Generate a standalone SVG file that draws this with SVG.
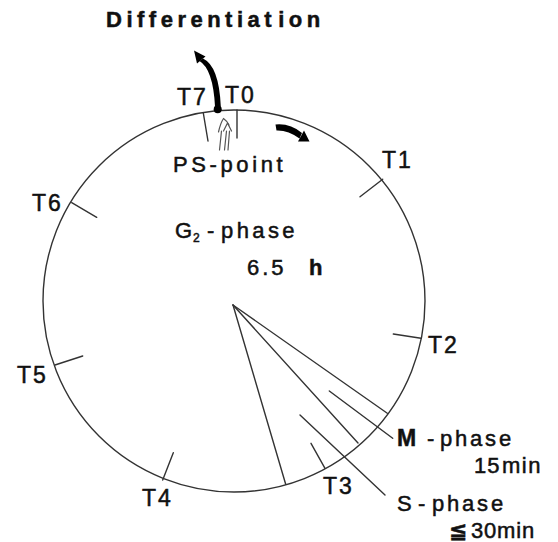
<svg xmlns="http://www.w3.org/2000/svg" width="558" height="542" viewBox="0 0 558 542">
<style>
  .ln { fill: none; stroke: #333; stroke-width: 1.4; stroke-linecap: round; }
  .thin { fill: none; stroke: #555; stroke-width: 1.2; stroke-linecap: round; stroke-linejoin: round; }
  .t { font-family: "Liberation Sans", Arial, "DejaVu Sans", sans-serif; font-size: 22px; fill: #111; stroke: #111; stroke-width: 0.5; }
  .tl { font-size: 23px; letter-spacing: 2px; }
  .b { font-weight: bold; }
  .blk { fill: #000; }
</style>
<rect width="558" height="542" fill="#fff"/>

<g id="cycle">
  <circle cx="234" cy="301" r="191" class="ln"/>
</g>

<g id="ticks">
  <line class="ln" x1="237" y1="110" x2="237" y2="138"/>
  <line class="ln" x1="382.7" y1="179.3" x2="360" y2="196.7"/>
  <line class="ln" x1="421" y1="338.3" x2="393.3" y2="334"/>
  <line class="ln" x1="325" y1="468.3" x2="311" y2="443.3"/>
  <line class="ln" x1="162.7" y1="480" x2="173.3" y2="452.7"/>
  <line class="ln" x1="55" y1="365" x2="82.7" y2="356"/>
  <line class="ln" x1="71.7" y1="202.7" x2="96.7" y2="217.3"/>
  <line class="ln" x1="203.3" y1="113" x2="208" y2="141"/>
</g>

<g id="connectors">
  <line class="ln" x1="233" y1="305" x2="387.3" y2="413.3"/>
  <line class="ln" x1="233" y1="305" x2="358" y2="443"/>
  <line class="ln" x1="233" y1="305" x2="285.7" y2="484.3"/>
  <line class="ln" x1="329.3" y1="391" x2="392.7" y2="438.3"/>
  <line class="ln" x1="300" y1="415" x2="385" y2="495"/>
</g>

<g id="ps-point">
  <circle cx="217.7" cy="109.3" r="4" class="blk"/>
  <path class="thin" d="M219.5,150 L221.5,131 M218.5,132 Q220.5,123 223.5,118.5 Q227,121 229,125"/>
  <path class="thin" d="M224.5,150 L226.5,131 M223.5,131 L227.5,123 L231.5,131 M228,150 L229.5,131"/>
  <text class="t" x="173" y="172" letter-spacing="3.6">PS-point</text>
</g>

<g id="differentiation">
  <path class="blk" d="M199.5,61 Q213,69 215,106.5 L220.8,106.5 Q219,66 203,58.5 Z"/>
  <polygon class="blk" points="194,50.5 205.5,56.5 197,63.5"/>
  <text class="t b" x="106" y="27" font-size="21" letter-spacing="4.5">Differentiat<tspan dx="2">ion</tspan></text>
</g>

<g id="direction">
  <path class="blk" d="M275.5,124.5 Q290,123 302,133 L299.5,138.5 Q288,130 276.5,130.5 Z"/>
  <polygon class="blk" points="309.5,141.5 298,141.5 304,130.5"/>
</g>

<g id="labels">
  <text class="t tl" x="177" y="105">T7</text>
  <text class="t tl" x="225" y="103">T0</text>
  <text class="t tl" x="382" y="168">T1</text>
  <text class="t tl" x="428" y="353">T2</text>
  <text class="t tl" x="323" y="494">T3</text>
  <text class="t tl" x="142" y="506">T4</text>
  <text class="t tl" x="17" y="383">T5</text>
  <text class="t tl" x="32" y="211">T6</text>
</g>

<g id="g2-phase">
  <text class="t" x="175" y="238">G<tspan x="193" y="242" font-size="12">2</tspan><tspan x="207" y="238">-</tspan><tspan x="221" letter-spacing="3.4">phase</tspan></text>
  <text class="t" x="247" y="275" letter-spacing="3">6.5<tspan class="b" x="309">h</tspan></text>
</g>

<g id="m-phase">
  <text class="t" x="397" y="446"><tspan class="b" font-size="23">M</tspan><tspan x="427">-</tspan><tspan x="440" letter-spacing="2.8">phase</tspan></text>
  <text class="t" x="474" y="473" letter-spacing="1">15<tspan x="502" letter-spacing="1.5">min</tspan></text>
</g>

<g id="s-phase">
  <text class="t" x="397" y="511">S<tspan x="418">-</tspan><tspan x="432" letter-spacing="2.8">phase</tspan></text>
  <text class="t" x="449" y="538"><tspan class="b" font-size="22" font-family="'DejaVu Sans', 'Noto Sans CJK JP', sans-serif">≦</tspan><tspan x="471" letter-spacing="0.8">30min</tspan></text>
</g>
</svg>
